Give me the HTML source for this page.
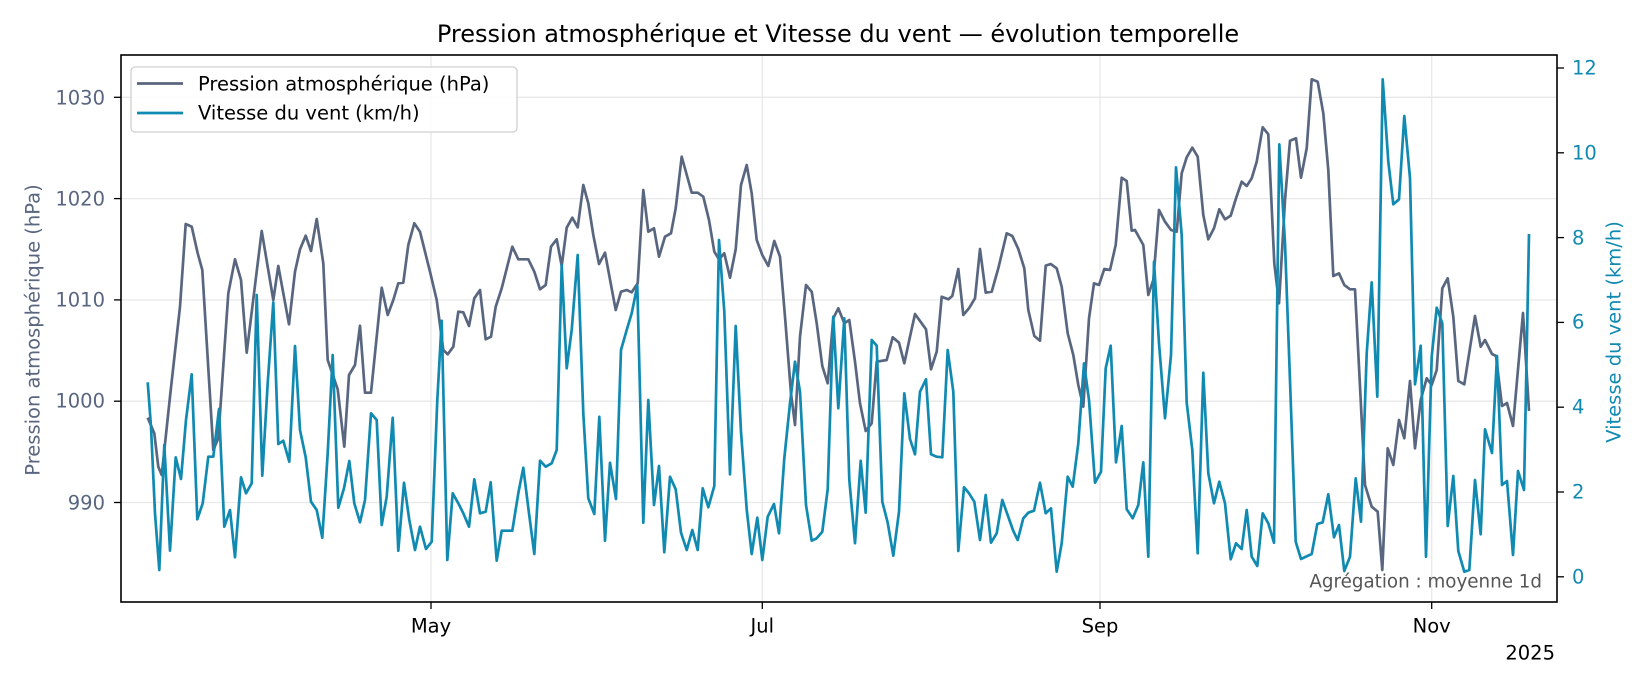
<!DOCTYPE html>
<html><head><meta charset="utf-8"><style>
html,body{margin:0;padding:0;background:#fff;}
svg{display:block;font-family:"DejaVu Sans","Liberation Sans",sans-serif;}
</style></head><body>
<svg id="s" width="1650" height="688" viewBox="0 0 1650 688" xmlns="http://www.w3.org/2000/svg">
<rect width="1650" height="688" fill="#fff"/>
<g stroke="#e8e8e8" stroke-width="1.3">
<line x1="121" x2="1557" y1="97.3" y2="97.3"/>
<line x1="121" x2="1557" y1="198.6" y2="198.6"/>
<line x1="121" x2="1557" y1="299.9" y2="299.9"/>
<line x1="121" x2="1557" y1="401.2" y2="401.2"/>
<line x1="121" x2="1557" y1="502.5" y2="502.5"/>
<line x1="431" x2="431" y1="55" y2="602"/>
<line x1="762.3" x2="762.3" y1="55" y2="602"/>
<line x1="1100" x2="1100" y1="55" y2="602"/>
<line x1="1431.7" x2="1431.7" y1="55" y2="602"/>
</g>
<g id="series" fill="none" stroke-width="2.7" stroke-linejoin="round"></g>
<rect x="121" y="55" width="1436" height="547" fill="none" stroke="#000" stroke-width="1.6"/>
<!-- left ticks -->
<g stroke="#000" stroke-width="1.3">
<line x1="114" x2="121" y1="97.3" y2="97.3"/><line x1="114" x2="121" y1="198.6" y2="198.6"/>
<line x1="114" x2="121" y1="299.9" y2="299.9"/><line x1="114" x2="121" y1="401.2" y2="401.2"/>
<line x1="114" x2="121" y1="502.5" y2="502.5"/>
<line x1="431" x2="431" y1="602" y2="609"/><line x1="762.3" x2="762.3" y1="602" y2="609"/>
<line x1="1100" x2="1100" y1="602" y2="609"/><line x1="1431.7" x2="1431.7" y1="602" y2="609"/>
<line x1="1557" x2="1564" y1="68" y2="68"/><line x1="1557" x2="1564" y1="152.8" y2="152.8"/>
<line x1="1557" x2="1564" y1="237.6" y2="237.6"/><line x1="1557" x2="1564" y1="322.4" y2="322.4"/>
<line x1="1557" x2="1564" y1="407.2" y2="407.2"/><line x1="1557" x2="1564" y1="492" y2="492"/>
<line x1="1557" x2="1564" y1="576.8" y2="576.8"/>
</g>
<g font-size="19.5" fill="#596680" text-anchor="end" dominant-baseline="central">
<text x="105" y="98">1030</text><text x="105" y="199">1020</text><text x="105" y="300">1010</text>
<text x="105" y="401">1000</text><text x="105" y="503">990</text>
</g>
<g font-size="19.5" fill="#118ab2" dominant-baseline="central">
<text x="1572" y="68">12</text><text x="1572" y="153">10</text><text x="1572" y="238">8</text>
<text x="1572" y="322">6</text><text x="1572" y="407">4</text><text x="1572" y="492">2</text>
<text x="1572" y="577">0</text>
</g>
<g font-size="19.5" fill="#000" text-anchor="middle" dominant-baseline="central">
<text x="431" y="626">May</text><text x="762.3" y="626">Jul</text><text x="1100" y="626">Sep</text><text x="1431.7" y="626">Nov</text>
</g>
<text x="1555" y="653" font-size="19.5" text-anchor="end" dominant-baseline="central">2025</text>
<text x="1542" y="582" font-size="18.3" fill="#555" text-anchor="end" dominant-baseline="central">Agrégation : moyenne 1d</text>
<text x="838" y="34" font-size="24" text-anchor="middle" dominant-baseline="central">Pression atmosphérique et Vitesse du vent — évolution temporelle</text>
<text transform="translate(33,330) rotate(-90)" font-size="19.5" fill="#596680" text-anchor="middle" dominant-baseline="central">Pression atmosphérique (hPa)</text>
<text transform="translate(1614,332) rotate(-90)" font-size="19.5" fill="#118ab2" text-anchor="middle" dominant-baseline="central">Vitesse du vent (km/h)</text>
<!-- legend -->
<rect x="131" y="67" width="386" height="65" rx="4" fill="#fff" fill-opacity="0.85" stroke="#d0d0d0" stroke-width="1.3"/>
<line x1="137" x2="183" y1="83.5" y2="83.5" stroke="#596680" stroke-width="2.7"/>
<line x1="137" x2="183" y1="113" y2="113" stroke="#118ab2" stroke-width="2.7"/>
<g font-size="19.5" fill="#000" dominant-baseline="central">
<text x="198" y="84">Pression atmosphérique (hPa)</text>
<text x="198" y="113">Vitesse du vent (km/h)</text>
</g>
</svg>
<script>
function tr(arr,ox){return arr.map(function(p){return [ox+p[0]/3,50+p[1]/3];});}
var G1=[[98,1103],[118,1150],[130,1250],[140,1275],[165,1040],[195,770],[212,522],[230,530],[248,610],[262,660],[295,1200],[310,1165],[340,730],[360,628],[378,690],[395,908],[440,543],[475,750],[490,648],[522,823],[540,665],[555,598],[572,557],[588,603],[605,507],[625,640],[638,930],[668,1018],[688,1190],[702,975],[720,945],[735,827],[750,1028],[768,1028],[800,713],[818,795],[835,750],[850,700],[865,698],[880,585],[898,520],[915,545],[945,665],[965,750],[985,900],[998,913],[1015,890]];
var G2=[[10,785],[25,787],[42,828],[58,745],[75,720],[92,868],[108,860],[122,770],[140,715],[172,590],[190,628],[220,628],[238,665],[255,718],[272,705],[288,590],[305,568],[320,648],[335,533],[352,503],[368,532],[385,405],[400,460],[415,555],[432,642],[450,608],[482,780],[498,725],[515,720],[530,727],[548,700],[565,420],[580,545],[597,535],[612,620],[630,560],[648,550],[662,475],[680,320],[710,428],[728,428],[745,440],[762,510],[778,605],[792,628],[808,610],[825,683],[842,598],[858,405],[875,345],[890,430],[905,570],[922,615],[940,648],[958,573],[975,620],[990,800],[1008,1030]];
var G3=[[0,1125],[15,860],[33,705],[50,725],[65,820],[82,948],[98,1000],[115,805],[130,775],[148,820],[163,810],[180,935],[195,1060],[212,1143],[230,1120],[245,935],[275,930],[293,862],[312,878],[328,940],[345,860],[360,792],[393,838],[408,958],[425,905],[440,740],[460,748],[472,738],[490,657],[505,795],[522,775],[540,745],[555,597],[572,728],[590,725],[610,655],[635,550],[652,558],[670,597],[688,655],[700,780],[718,858],[735,872],[752,647],[767,642],[785,655],[800,710],[818,850],[835,915],[850,1005],[865,1070],[882,805],[897,700],[912,705],[928,657],[945,660],[962,585],[980,383],[995,393],[1010,542]];
var G4=[[0,540],[25,585],[40,735],[55,690],[72,480],[90,515],[108,540],[125,545],[140,370],[155,322],[172,293],[188,320],[205,495],[220,568],[237,535],[253,478],[270,508],[287,497],[303,445],[320,395],[335,408],[350,385],[365,335],[383,232],[400,253],[418,640],[432,760],[450,450],[465,272],[483,265],[498,383],[515,295],[530,88],[548,95],[565,190],[580,360],[595,678],[612,670],[628,705],[645,718],[660,718],[672,950],[690,1305],[710,1370],[728,1385],[742,1560],[758,1195],[775,1245],[792,1110],[808,1165],[825,993],[840,1195],[857,1050],[875,985],[890,1005],[905,960],[922,715],[938,685],[955,800],[970,993],[988,1003],[1020,798],[1037,890],[1050,870]];
var GT=[[1492,354],[1496,356],[1502,406],[1507,403],[1513,426],[1523,313],[1529,411]];
var B1=[[98,997],[108,1130],[120,1390],[133,1560],[148,1185],[165,1502],[182,1222],[198,1287],[213,1110],[230,973],[247,1408],[263,1360],[280,1220],[295,1220],[312,1077],[328,1430],[345,1380],[360,1522],[378,1282],[393,1330],[410,1300],[425,735],[442,1277],[458,1000],[475,757],[490,1182],[505,1172],[523,1235],[540,888],[555,1140],[572,1222],[588,1355],[605,1380],[622,1463],[638,1210],[653,915],[670,1373],[687,1315],[703,1233],[718,1360],[735,1417],[750,1350],[768,1090],[785,1110],[800,1425],[815,1340],[833,1103],[850,1502],[867,1298],[883,1410],[900,1500],[915,1430],[933,1497],[950,1475],[967,1050],[980,812],[997,1530],[1013,1330]];
var B2=[[10,1360],[25,1390],[42,1430],[58,1288],[75,1390],[92,1385],[107,1297],[125,1532],[140,1442],[172,1442],[190,1330],[205,1253],[222,1390],[238,1512],[255,1232],[272,1250],[290,1240],[305,1200],[320,645],[335,955],[350,840],[368,615],[385,1090],[400,1345],[418,1392],[433,1100],[450,1472],[465,1238],[483,1347],[498,900],[515,840],[530,790],[547,707],[565,1418],[580,1050],[597,1365],[612,1248],[628,1507],[645,1280],[662,1318],[678,1448],[695,1500],[712,1440],[728,1500],[743,1315],[760,1372],[778,1308],[792,570],[808,785],[825,1273],[842,828],[858,1145],[875,1378],[890,1512],[907,1403],[922,1530],[938,1400],[957,1362],[972,1450],[988,1225],[1005,1060],[1020,935]];
var B3=[[15,1025],[33,1365],[50,1472],[65,1465],[82,1445],[98,1318],[115,800],[130,1075],[148,805],[163,1290],[180,1480],[197,1232],[212,1388],[230,870],[245,887],[262,1355],[278,1418],[295,1517],[312,1385],[328,1030],[345,1167],[360,1213],[375,1025],[393,988],[408,1213],[425,1220],[442,1222],[458,900],[475,1025],[490,1503],[507,1312],[522,1330],[538,1355],[555,1470],[572,1335],[588,1478],[605,1450],[622,1350],[655,1443],[668,1470],[685,1405],[700,1388],[717,1382],[735,1298],[752,1390],[768,1375],[785,1565],[800,1480],[818,1280],[833,1310],[850,1180],[867,940],[882,1050],[900,1298],[918,1265],[932,955],[947,887],[963,1237],[980,1128],[995,1378],[1013,1405]];
var B4=[[10,1365],[25,1237],[40,1520],[57,635],[72,880],[90,1105],[108,915],[123,352],[140,555],[155,1058],[172,1200],[188,1510],[205,968],[220,1270],[237,1360],[253,1295],[270,1360],[287,1528],[303,1480],[320,1497],[335,1380],[350,1520],[367,1548],[383,1390],[400,1420],[417,1478],[433,283],[450,580],[467,1050],[482,1475],[498,1527],[530,1512],[547,1422],[563,1417],[580,1333],[597,1462],[612,1425],[628,1563],[645,1520],[662,1285],[678,1415],[695,910],[710,697],[727,1040],[743,88],[760,335],[775,463],[792,448],[808,198],[825,385],[840,1003],[857,887],[873,1520],[890,920],[905,773],[922,820],[938,1428],[955,1278],[970,1503],[988,1565],[1003,1560],[1020,1290],[1037,1453],[1050,1138]];
var BT=[[1492,453],[1497,356],[1502,485],[1507,481],[1513,555],[1518,471],[1524,490],[1529,234]];
var g=[].concat(tr(G1,115),tr(G2,455),tr(G3,795),tr(G4,1135),GT);
var b=[].concat(tr(B1,115),tr(B2,455),tr(B3,795),tr(B4,1135),BT);
function pl(pts,c){var e=document.createElementNS("http://www.w3.org/2000/svg","polyline");
e.setAttribute("points",pts.map(function(p){return p[0].toFixed(1)+","+p[1].toFixed(1);}).join(" "));
e.setAttribute("stroke",c);document.getElementById("series").appendChild(e);}
pl(g,"#596680");pl(b,"#118ab2");
</script>
</body></html>
